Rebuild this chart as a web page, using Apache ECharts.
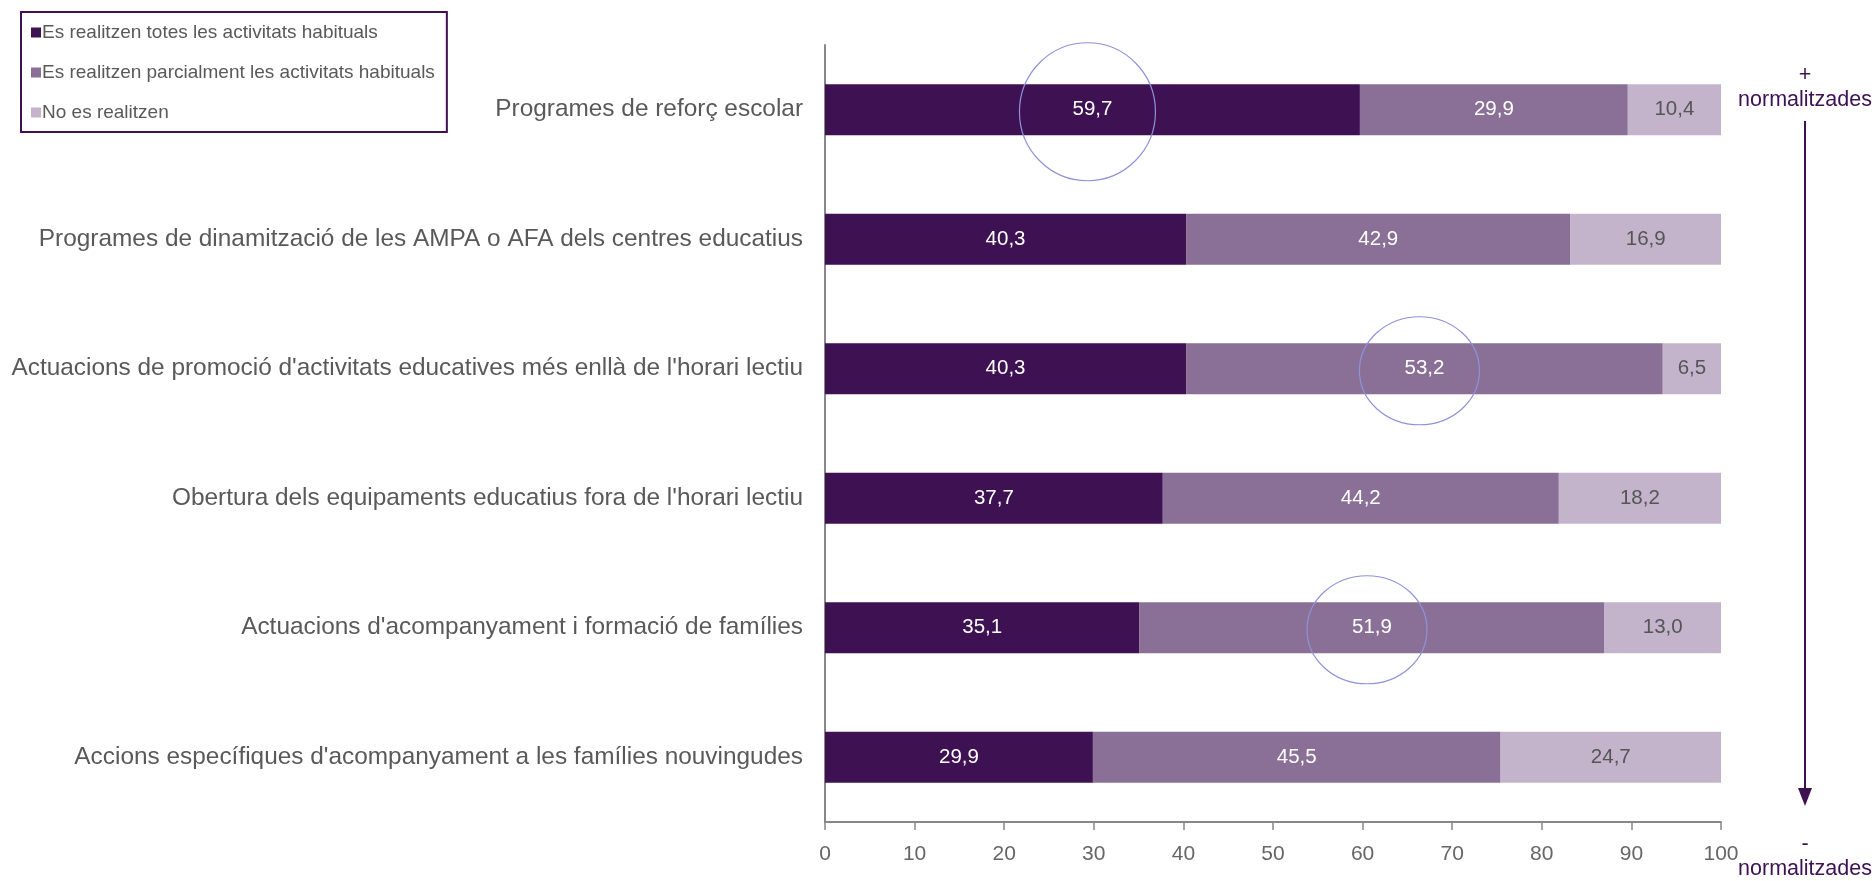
<!DOCTYPE html>
<html>
<head>
<meta charset="utf-8">
<script src="https://cdn.jsdelivr.net/npm/echarts@6/dist/echarts.min.js"></script>
<style>
html,body{margin:0;padding:0;background:#fff;}
#chart{width:1874px;height:881px;}
</style>
</head>
<body>
<div id="chart"></div>
<script>
const categories = [
  "Programes de reforç escolar",
  "Programes de dinamització de les AMPA o AFA dels centres educatius",
  "Actuacions de promoció d'activitats educatives més enllà de l'horari lectiu",
  "Obertura dels equipaments educatius fora de l'horari lectiu",
  "Actuacions d'acompanyament i formació de famílies",
  "Accions específiques d'acompanyament a les famílies nouvingudes"
];
const seriesNames = [
  "Es realitzen totes les activitats habituals",
  "Es realitzen parcialment les activitats habituals",
  "No es realitzen"
];
const totes = [59.7, 40.3, 40.3, 37.7, 35.1, 29.9];
const parcialment = [29.9, 42.9, 53.2, 44.2, 51.9, 45.5];
const noRealitzen = [10.4, 16.9, 6.5, 18.2, 13.0, 24.7];
const xTicks = [0, 10, 20, 30, 40, 50, 60, 70, 80, 90, 100];
// highlighted values: [series index, category index]
const highlights = [[0, 0], [1, 2], [1, 4]];

const colors = ['#3d1152', '#8a7096', '#c3b4cb'];
const FONT = '"Liberation Sans", Arial, sans-serif';
const NARROW = '"Liberation Sans Narrow", "Liberation Sans", sans-serif';
const fmt = p => p.value.toFixed(1).replace('.', ',');

const chart = echarts.init(document.getElementById('chart'));
const dataSets = [totes, parcialment, noRealitzen];

const option = {
  animation: false,
  grid: { left: 825, right: 153, top: 45, bottom: 59 },
  legend: {
    orient: 'vertical',
    left: 21, top: 12,
    data: seriesNames,
    icon: 'rect',
    itemWidth: 10, itemHeight: 10,
    itemGap: 21,
    padding: [11, 12, 10, 10],
    borderColor: '#3d1152', borderWidth: 2,
    textStyle: { fontFamily: FONT, fontSize: 19, color: '#595959', padding: [0, 0, 0, -4] }
  },
  xAxis: {
    type: 'value', min: 0, max: 100, interval: 10,
    axisLine: { show: true, lineStyle: { color: '#888', width: 2 } },
    axisTick: { show: true, length: 8, lineStyle: { color: '#888', width: 1.5 } },
    splitLine: { show: false },
    axisLabel: { fontFamily: NARROW, fontSize: 21, color: '#666', margin: 22,
      formatter: v => xTicks.includes(v) ? String(v) : '' }
  },
  yAxis: {
    type: 'category', inverse: true, data: categories,
    axisLine: { show: true, lineStyle: { color: '#888', width: 2 } },
    axisTick: { show: false },
    axisLabel: { fontFamily: FONT, fontSize: 24.4, color: '#595959', margin: 22 }
  },
  series: dataSets.map((d, i) => ({
    name: seriesNames[i],
    type: 'bar', stack: 'total',
    barWidth: 51,
    data: d,
    itemStyle: { color: colors[i] },
    label: {
      show: true, position: 'inside', formatter: fmt,
      fontFamily: FONT, fontSize: 20.5,
      color: i === 2 ? '#555' : '#fff'
    }
  }))
};
chart.setOption(option);

function drawGraphics() {
  const els = [];
  highlights.forEach(([s, c], k) => {
    let base = 0;
    for (let j = 0; j < s; j++) base += dataSets[j][c];
    const mid = base + dataSets[s][c] / 2;
    const pt = chart.convertToPixel({ gridIndex: 0 }, [mid, categories[c]]);
    const r = k === 0 ? [68, 69] : [60, 54];
    els.push({
      type: 'ellipse', z: 100,
      shape: { cx: pt[0] - 5, cy: pt[1] + 2, rx: r[0], ry: r[1] },
      style: { fill: 'none', stroke: '#8e92d8', lineWidth: 1.2 }
    });
  });
  const ax = 1805;
  const txt = (t, y) => ({
    type: 'text', z: 100,
    style: { text: t, x: ax, y: y, align: 'center', verticalAlign: 'middle',
      fontFamily: FONT, fontSize: 21.5, fill: '#3d1152' }
  });
  els.push(txt('+', 75));
  els.push(txt('normalitzades', 100));
  els.push(txt('-', 844));
  els.push(txt('normalitzades', 869));
  els.push({ type: 'line', z: 100, shape: { x1: ax, y1: 121, x2: ax, y2: 790 },
    style: { stroke: '#3d1152', lineWidth: 2 } });
  els.push({ type: 'polygon', z: 100, shape: { points: [[ax - 7, 788], [ax + 7, 788], [ax, 806]] },
    style: { fill: '#3d1152' } });
  chart.setOption({ graphic: { elements: els } });
}
drawGraphics();
</script>
</body>
</html>
